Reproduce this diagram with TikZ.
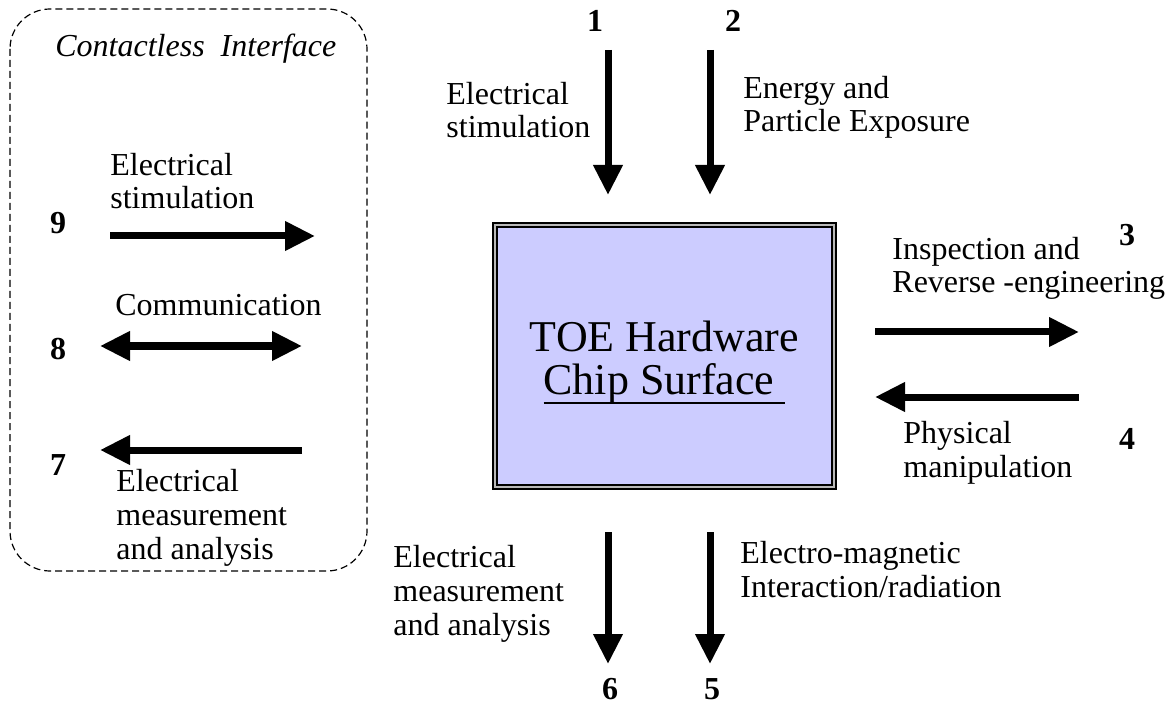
\documentclass[tikz,border=0pt]{standalone}
\usepackage{fontspec}
\setmainfont{Liberation Serif}
\usetikzlibrary{arrows.meta}
\definecolor{chipfill}{RGB}{204,204,255}
\newcommand{\chipul}[1]{\setbox0=\hbox{#1}\rlap{\rule[-5pt]{\wd0}{1pt}}\box0}

\begin{document}
\begin{tikzpicture}[x=0.5pt,y=-0.5pt,>={Triangle[width=14pt,length=15pt]},
  txt/.style={anchor=base west,align=left,inner sep=0pt,font=\fontsize{16}{16.8}\selectfont},
  num/.style={anchor=base,inner sep=0pt,font=\fontsize{16}{18}\selectfont\bfseries},
  arr/.style={line width=3.5pt,->}]
 \useasboundingbox (0,0) rectangle (1171,705);
 % contactless side (multi-line texts sit on their last line)
 \draw[line width=0.6pt,dash pattern=on 3.5pt off 2pt,rounded corners=20pt] (10,9) rectangle (367,571);
 \node[txt,font=\fontsize{16}{18}\selectfont\itshape] (cif) at (55,57) {Contactless~ Interface};
 \node[txt] (l9) at (110,209) {Electrical\\stimulation};
 \node[txt] (l8) at (115,315) {Communication};
 \node[txt] (l7) at (116,559) {Electrical\\measurement\\and analysis};
 % the chip
 \node[draw,line width=0.9pt,double=gray!55,double distance=1pt,fill=chipfill,
   minimum width=169.7pt,minimum height=131.2pt] (toe) at (664.5,356) {};
 \node[anchor=base,align=center,inner sep=0pt,font=\fontsize{22}{21.5}\selectfont] (toetxt) at (664.5,394)
   {TOE Hardware\\\chipul{Chip Surface\ }};
 \node[txt] (l1) at (446,138) {Electrical\\stimulation};
 \node[txt] (l2) at (743,132) {Energy and\\Particle Exposure};
 \node[txt] (l3) at (892,293) {Inspection and\\Reverse -engineering};
 \node[txt] (l4) at (903,477) {Physical\\manipulation};
 \node[txt] (l5) at (740,597) {Electro-magnetic\\Interaction/radiation};
 \node[txt] (l6) at (393,635) {Electrical\\measurement\\and analysis};
 % numbers
 \foreach \n/\x/\y in {1/595/32,2/733/32,3/1127/246,4/1127/449,5/712/699,6/610/699,7/58/475,8/58/359,9/58/234}{
  \node[num] (n\n) at (\x,\y) {\n};
 }
 % arrows
 \foreach \n/\xa/\ya/\xb/\yb in {1/608/50/608/195,2/710/50/710/195,5/710/532/710/664,6/608/532/608/664,
   3/875/332/1079/332,4/1079/397/875/397,9/110/236/315/236,7/302/450/100/450}{
  \coordinate (s\n) at (\xa,\ya); \coordinate (e\n) at (\xb,\yb);
  \draw[arr] (s\n) -- (e\n);
 }
 \coordinate (s8) at (100,346); \coordinate (e8) at (302,346);
 \draw[arr,<->] (s8) -- (e8);
\end{tikzpicture}
\end{document}
